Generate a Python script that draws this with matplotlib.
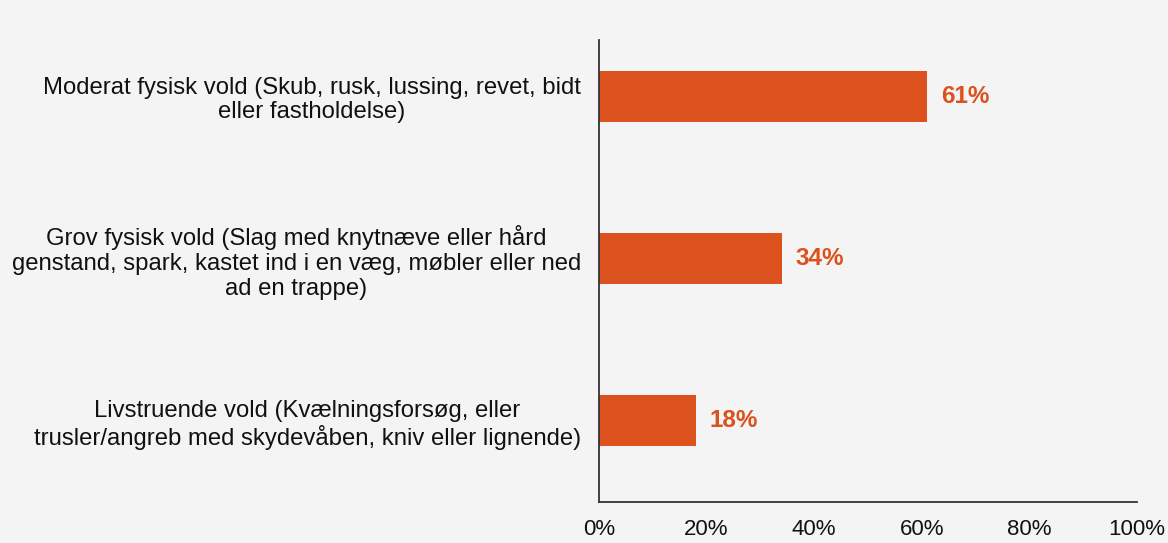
import matplotlib
matplotlib.use('Agg')
import matplotlib.pyplot as plt

categories = [
    'Moderat fysisk vold (Skub, rusk, lussing, revet, bidt\neller fastholdelse)',
    'Grov fysisk vold (Slag med knytnæve eller hård\ngenstand, spark, kastet ind i en væg, møbler eller ned\nad en trappe)',
    'Livstruende vold (Kvælningsforsøg, eller\ntrusler/angreb med skydevåben, kniv eller lignende)',
]
values = [61, 34, 18]
xticks = [0, 20, 40, 60, 80, 100]

bg = '#f4f4f4'
bar_color = '#db521e'

plt.rcParams['font.family'] = ['Liberation Sans', 'DejaVu Sans']

fig = plt.figure(figsize=(11.68, 5.43), dpi=100, facecolor=bg)
ax = fig.add_axes([0.5128, 0.0755, 0.4607, 0.8508], facecolor=bg)

y = list(range(len(categories)))
ax.barh(y, values, height=0.314, color=bar_color)

# value labels next to the bars
for yi, v in zip(y, values):
    ax.text(v + 2.6, yi, f'{v}%', va='center', ha='left',
            color=bar_color, fontsize=17.5, fontweight='bold')

ax.set_xlim(0, 100)
ax.set_ylim(2.5, -0.345)
ax.set_xticks(xticks)
ax.set_xticklabels([f'{t}%' for t in xticks])
ax.set_yticks(y)
ax.set_yticklabels(categories)
for lbl in ax.get_yticklabels():
    lbl.set_multialignment('center')
    lbl.set_linespacing(1.16)
    lbl.set_fontsize(17.2)

ax.tick_params(axis='both', length=0, colors='#111111')
ax.tick_params(axis='x', labelsize=16, pad=12)
ax.tick_params(axis='y', pad=13)

for side in ['top', 'right']:
    ax.spines[side].set_visible(False)
for side in ['left', 'bottom']:
    ax.spines[side].set_color('#333333')
    ax.spines[side].set_linewidth(1.3)

fig.savefig('out.png', dpi=100, facecolor=bg)
